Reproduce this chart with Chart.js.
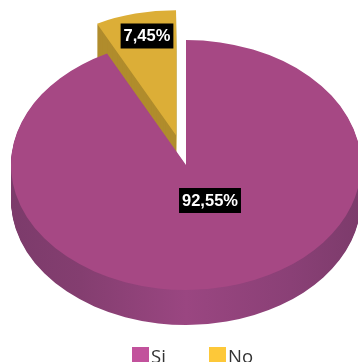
<!DOCTYPE html>
<html>
<head>
<meta charset="utf-8">
<style>
    html, body { margin: 0; padding: 0; background: #fff; overflow: hidden; width: 358px; height: 362px; }
    #wrap { position: relative; width: 358px; height: 362px; overflow: hidden; }
    #legend { position: absolute; left: 0; top: 345px; width: 358px; height: 17px; font: 18.5px "Open Sans", sans-serif; color: #333; }
    #legend span.box { position: absolute; top: 2px; width: 17px; height: 16px; }
    #legend span.txt { position: absolute; top: -3px; line-height: 27px; }
</style>
<script src="https://cdn.jsdelivr.net/npm/chart.js@4"></script>
</head>
<body>
<div id="wrap">
    <canvas id="pie" width="358" height="362"></canvas>
    <div id="legend"></div>
</div>
<script>
    var categories = ['Si', 'No'];
    var seriesValues = [92.55, 7.45];
    var valueLabels = ['92,55%', '7,45%'];
    var legendColors = ['#c2529c', '#fdc839'];
    var topColors = ['#a64884', '#dcae37'];
    var legendLefts = [132, 209];

    // Flattened pie: the arcs are drawn by Chart.js under a squashed transform
    var centerX = 186;
    var centerY = 165;
    var squash = 0.714;
    var depth = 35;
    var explode = [0, 43];
    var labelCenters = [[210, 200.5], [147, 36]];

    /**
     * Side wall paint, a little darker towards both edges of the pie.
     * @param {Object} ctx Canvas context
     * @param {Object} arc Arc element
     * @param {Integer} index Slice index
     * @return {Object} Gradient or colour
     */
    function wallPaint(ctx, arc, index) {
        if (index === 1) {
            return '#b08c2c';
        }
        var grad = ctx.createLinearGradient(arc.x - arc.outerRadius, 0, arc.x + arc.outerRadius, 0);
        grad.addColorStop(0, '#7c3b6b');
        grad.addColorStop(0.2, '#843e70');
        grad.addColorStop(0.5, '#9a4681');
        grad.addColorStop(0.8, '#8a4076');
        grad.addColorStop(1, '#7c3b6b');
        return grad;
    }

    /**
     * Draw one slice at a vertical shift.
     * @param {Object} ctx Canvas context
     * @param {Object} arc Arc element
     * @param {Integer} index Slice index
     * @param {Number} shift Pixels down
     * @param {Object} paint Fill style
     */
    function drawSlice(ctx, arc, index, shift, paint) {
        var mid = (arc.startAngle + arc.endAngle) / 2;
        var saved = arc.options;
        ctx.save();
        ctx.translate(centerX, centerY + shift);
        ctx.scale(1, squash);
        ctx.translate(Math.cos(mid) * explode[index], Math.sin(mid) * explode[index]);
        ctx.translate(-arc.x, -arc.y);
        arc.options = Object.assign({}, saved, {backgroundColor: paint, borderWidth: 0});
        arc.draw(ctx);
        arc.options = saved;
        ctx.restore();
    }

    var pie3d = {
        id: 'pie3d',
        beforeDatasetsDraw: function(chart) {
            var ctx = chart.ctx;
            var arcs = chart.getDatasetMeta(0).data;
            // Exploded slice first, the big slice lies over it
            [1, 0].forEach(function(i) {
                var paint = wallPaint(ctx, arcs[i], i);
                for (var d = depth; d > 0; d--) {
                    drawSlice(ctx, arcs[i], i, d, paint);
                }
                drawSlice(ctx, arcs[i], i, 0, topColors[i]);
            });
            return false;
        },
        afterDraw: function(chart) {
            var ctx = chart.ctx;
            ctx.save();
            ctx.font = 'bold 16.5px "Liberation Sans", Arial, sans-serif';
            ctx.textAlign = 'center';
            ctx.textBaseline = 'middle';
            valueLabels.forEach(function(label, i) {
                var w = ctx.measureText(label).width + 6;
                var pos = labelCenters[i];
                ctx.fillStyle = '#000';
                ctx.fillRect(pos[0] - w / 2, pos[1] - 12.5, w, 25);
                ctx.fillStyle = '#fff';
                ctx.fillText(label, pos[0], pos[1] + 0.5);
            });
            ctx.restore();
        }
    };

    new Chart(document.getElementById('pie'), {
        type: 'pie',
        data: {
            labels: categories,
            datasets: [{
                data: seriesValues,
                backgroundColor: topColors,
                borderWidth: 0,
                radius: 175
            }]
        },
        options: {
            responsive: false,
            animation: false,
            events: [],
            layout: {padding: 0},
            plugins: {
                legend: {display: false},
                tooltip: {enabled: false}
            }
        },
        plugins: [pie3d]
    });

    var legend = document.getElementById('legend');
    categories.forEach(function(name, i) {
        var box = document.createElement('span');
        box.className = 'box';
        box.style.left = legendLefts[i] + 'px';
        box.style.background = legendColors[i];
        var txt = document.createElement('span');
        txt.className = 'txt';
        txt.style.left = (legendLefts[i] + 19) + 'px';
        txt.textContent = name;
        legend.appendChild(box);
        legend.appendChild(txt);
    });
</script>
</body>
</html>
